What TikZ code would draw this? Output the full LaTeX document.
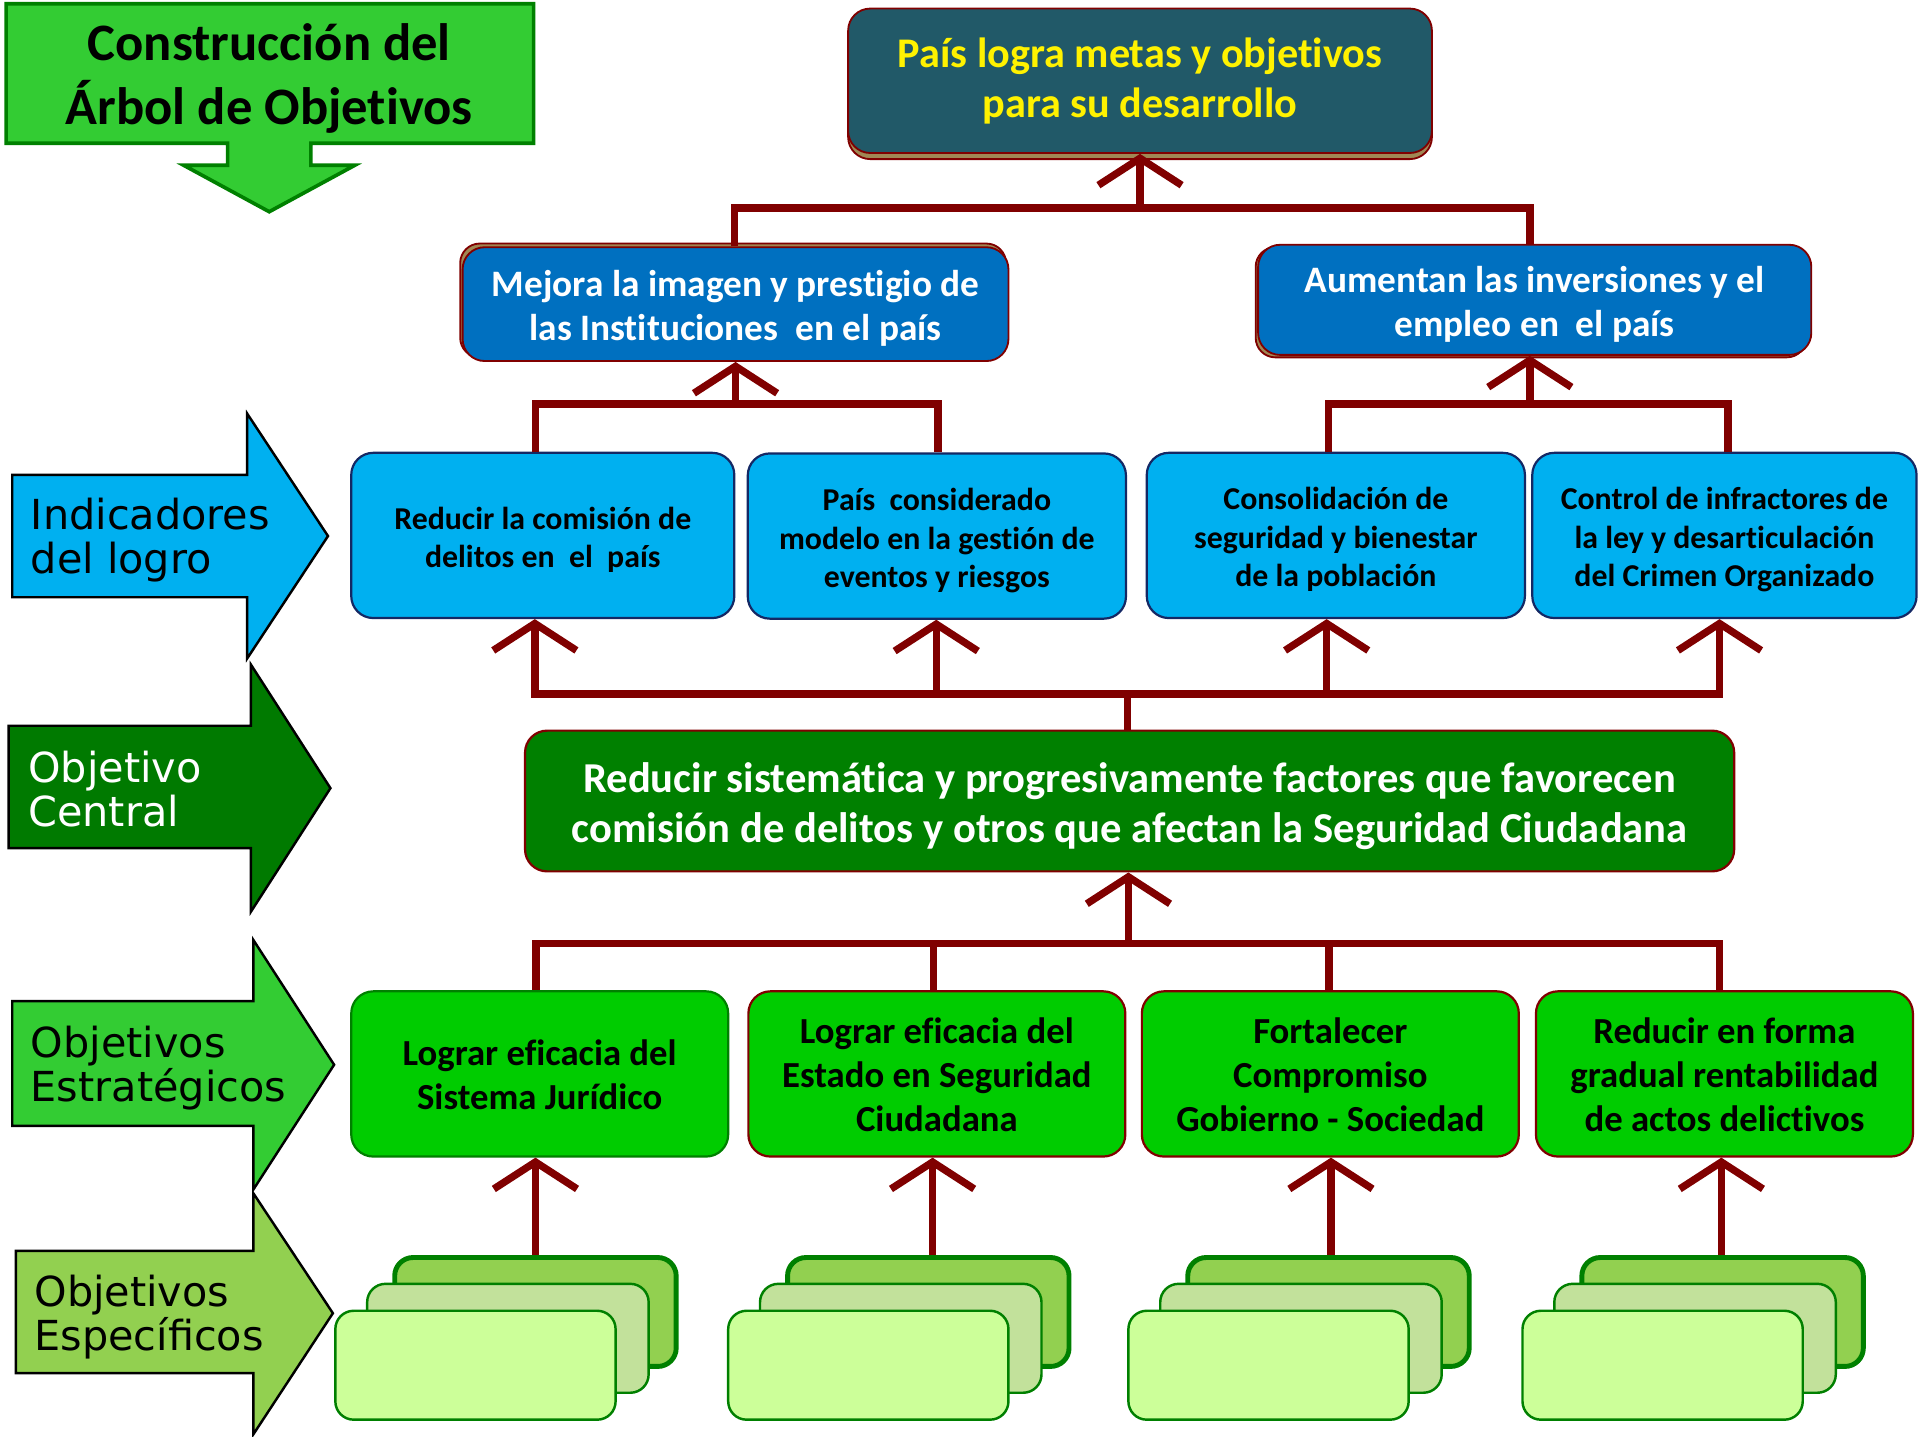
\documentclass[tikz,border=0pt]{standalone}
\usepackage{fontspec}
\setmainfont{Carlito}[Ligatures=NoCommon]
\newfontfamily\lblfont{DejaVu Sans}
\usetikzlibrary{arrows.meta}
\definecolor{cDark}{RGB}{128,0,0}
\definecolor{cTitle}{RGB}{51,204,51}
\definecolor{cTitleB}{RGB}{0,128,0}
\definecolor{cTeal}{RGB}{33,89,104}
\definecolor{cTan}{RGB}{160,136,84}
\definecolor{cMidBlue}{RGB}{0,112,192}
\definecolor{cSky}{RGB}{0,176,240}
\definecolor{cNavy}{RGB}{20,40,100}
\definecolor{cCentral}{RGB}{0,128,0}
\definecolor{cStrat}{RGB}{0,204,0}
\definecolor{cBack}{RGB}{146,208,80}
\definecolor{cMid}{RGB}{194,225,155}
\definecolor{cFront}{RGB}{204,255,153}
\definecolor{cCardB}{RGB}{0,128,0}
\definecolor{cLblC}{RGB}{0,122,0}
\begin{document}
\begin{tikzpicture}[x=1pt,y=-1pt,
  box/.style={rounded corners=18pt, inner sep=0pt},
  txt/.style={inner sep=0pt, align=center},
  topbox/.style={box, fill=cTeal, draw=cDark, line width=1.5pt},
  toptxt/.style={txt, text=yellow, font=\fontsize{34.5}{41}\selectfont\bfseries},
  midbox/.style={box, fill=cMidBlue, draw=cDark, line width=1.5pt},
  midtxt/.style={txt, text=white, font=\fontsize{30.5}{36}\selectfont\bfseries},
  indbox/.style={box, fill=cSky, draw=cNavy, line width=1.8pt,
     minimum width=309pt, minimum height=135pt},
  indtxt/.style={txt, font=\fontsize{26}{31.5}\selectfont\bfseries},
  cenbox/.style={box, fill=cCentral, draw=cDark, line width=1.8pt},
  centxt/.style={txt, text=white, font=\fontsize{34.8}{41}\selectfont\bfseries},
  strbox/.style={box, fill=cStrat, draw=cDark, line width=1.8pt,
     minimum width=308pt, minimum height=135pt},
  strtxt/.style={txt, font=\fontsize{30}{36}\selectfont\bfseries},
  card/.style={rounded corners=15pt, draw=cCardB, line width=2pt, inner sep=0pt,
     minimum width=230pt, minimum height=89pt},
  backcard/.style={card, fill=cBack, line width=4pt},
  midcard/.style={card, fill=cMid},
  frontcard/.style={card, fill=cFront},
  conn/.style={draw=cDark, line width=6pt, line join=miter},
  tipc/.style={conn, -{Straight Barb[length=22pt,width=68pt]}},
  lblarrow/.style={draw=black, line width=2pt, line join=miter},
  lbltext/.style={anchor=west, align=left, inner sep=0pt,
     font=\lblfont\fontsize{33.8}{36}\selectfont}
]
\useasboundingbox (0,0) rectangle (1568,1174);

% ---------- title ----------
\draw[fill=cTitle, draw=cTitleB, line width=3pt, line join=miter]
  (5,3) -- (436,3) -- (436,117) -- (254,117) -- (254,135) -- (290,135)
  -- (220,173) -- (150,135) -- (186,135) -- (186,117) -- (5,117) -- cycle;
\node[txt, font=\fontsize{43}{52}\selectfont\bfseries]
  (title) at (220,64) {Construcción del\\Árbol de Objetivos};

% ---------- left label arrows ----------
\draw[lblarrow, fill=cSky] (10,388) -- (202,388) -- (202,338) -- (268,438)
  -- (202,538) -- (202,488) -- (10,488) -- cycle;
\node[lbltext] (l1) at (25,441) {Indicadores\\del logro};
\draw[lblarrow, fill=cLblC] (7,593) -- (205,593) -- (205,543) -- (270,644)
  -- (205,745) -- (205,693) -- (7,693) -- cycle;
\node[lbltext, text=white] (l2) at (23,645) {Objetivo\\Central};
\draw[lblarrow, fill=cTitle] (10,818) -- (207,818) -- (207,768) -- (273,870)
  -- (207,972) -- (207,920) -- (10,920) -- cycle;
\node[lbltext] (l3) at (25,873) {Objetivos\\Estratégicos};
\draw[lblarrow, fill=cBack] (13,1022) -- (207,1022) -- (207,975) -- (272,1073)
  -- (207,1172) -- (207,1122) -- (13,1122) -- cycle;
\node[lbltext] (l4) at (28,1076) {Objetivos\\Específicos};

% ---------- top level ----------
\draw[rounded corners=18pt, fill=cTan, draw=cDark, line width=1.5pt]
  (693,12) rectangle (1170,130);
\node[topbox, minimum width=477pt, minimum height=118pt] (top) at (931.5,66) {};
\node[toptxt] (topt) at ([yshift=-0.5pt]top.center)
  {País logra metas y objetivos\\para su desarrollo};

\draw[rounded corners=16pt, fill=cTan, draw=cDark, line width=1.5pt]
  (376,199) rectangle (822,292);
\node[midbox, minimum width=446pt, minimum height=93pt] (mej) at (601,248.5) {};
\node[midtxt] (mejt) at ([yshift=-3.5pt]mej.center)
  {Mejora la imagen y prestigio de\\las Instituciones\ \ en el país};
\draw[rounded corners=16pt, fill=cTan, draw=cDark, line width=1.5pt]
  (1026,202) rectangle (1476,292);
\node[midbox, minimum width=452pt, minimum height=90pt] (aum) at (1254,245) {};
\node[midtxt] (aumt) at ([yshift=-4pt]aum.center)
  {Aumentan las inversiones y el\\empleo en\ \ el país};

% ---------- indicators ----------
\node[indbox, minimum width=313pt] (ind1) at (443.5,437.5) {};
\node[indbox] (ind2) at (765.5,438) {};
\node[indbox] (ind3) at (1091.5,437.5) {};
\node[indbox, minimum width=314pt] (ind4) at (1409,437.5) {};
\node[indtxt] (ind1t) at ([yshift=-3.5pt]ind1.center)
  {Reducir la comisión de\\delitos en\ \ el\ \ país};
\node[indtxt] (ind2t) at ([yshift=-4pt]ind2.center)
  {País\ \ considerado\\modelo en la gestión de\\eventos y riesgos};
\node[indtxt] (ind3t) at ([yshift=-3.5pt]ind3.center)
  {Consolidación de\\seguridad y bienestar\\de la población};
\node[indtxt] (ind4t) at ([yshift=-3.5pt]ind4.center)
  {Control de infractores de\\la ley y desarticulación\\del Crimen Organizado};

% ---------- central ----------
\node[cenbox, minimum width=988pt, minimum height=115pt] (cen) at (923,654.5) {};
\node[centxt] (cent) at ([yshift=-4pt]cen.center)
  {Reducir sistemática y progresivamente factores que favorecen\\comisión de delitos y otros que afectan la Seguridad Ciudadana};

% ---------- strategic ----------
\node[strbox, draw=cTitleB] (str1) at (441,877.5) {};
\node[strbox] (str2) at (765.5,877.5) {};
\node[strbox] (str3) at (1087,877.5) {};
\node[strbox] (str4) at (1409,877.5) {};
\node[strtxt] (str1t) at ([yshift=-0.5pt]str1.center)
  {Lograr eficacia del\\Sistema Jurídico};
\node[strtxt] (str2t) at ([yshift=-0.5pt]str2.center)
  {Lograr eficacia del\\Estado en Seguridad\\Ciudadana};
\node[strtxt] (str3t) at ([yshift=-0.5pt]str3.center)
  {Fortalecer\\Compromiso\\Gobierno - Sociedad};
\node[strtxt] (str4t) at ([yshift=-0.5pt]str4.center)
  {Reducir en forma\\gradual rentabilidad\\de actos delictivos};

% ---------- specific stacks ----------
\foreach \i/\dx in {1/0,2/321,3/648,4/970}{
  \node[backcard] (s\i-b) at (437.5+\dx,1072) {};
  \node[midcard] (s\i-m) at (415+\dx,1093.5) {};
  \node[frontcard, minimum width=229pt] (s\i-f) at (388.5+\dx,1115.5) {};
}

% ---------- connectors ----------
\coordinate (b0) at (931.5,170);
\draw[conn] ([xshift=-1pt]mej.north) |- (b0) -| ([xshift=-4pt]aum.north);
\draw[tipc] (b0) -- (top.south);

\coordinate (b1) at (601,330);
\draw[conn] ([xshift=-6pt]ind1.north) |- (b1) -| ([xshift=1pt]ind2.north);
\draw[tipc] (b1) -- (mej.south);

\coordinate (b2) at (1250,330);
\draw[conn] ([xshift=-6pt]ind3.north) |- (b2) -| ([xshift=3pt]ind4.north);
\draw[tipc] (b2) -- (b2 |- aum.south);

\coordinate (b3) at (921,567);
\coordinate (a1) at (437,567);
\coordinate (a2) at (765,567);
\coordinate (a3) at (1084,567);
\coordinate (a4) at (1405,567);
\draw[conn] (cen.north -| b3) -- (b3);
\draw[conn, line cap=rect] (a1) -- (a4);
\draw[tipc] (a1) -- (a1 |- ind1.south);
\draw[tipc] (a2) -- (a2 |- ind2.south);
\draw[tipc] (a3) -- (a3 |- ind3.south);
\draw[tipc] (a4) -- (a4 |- ind4.south);

\coordinate (b4) at (922,771);
\draw[tipc] (b4) -- (b4 |- cen.south);
\draw[conn] ([xshift=-3pt]str1.north) |- (b4) -| ([xshift=-4pt]str4.north);
\draw[conn] ([xshift=-3pt]str2.north) -- ([xshift=-3pt]str2.north |- b4);
\draw[conn] ([xshift=-1pt]str3.north) -- ([xshift=-1pt]str3.north |- b4);

\draw[tipc] (s1-b.north) -- (s1-b.north |- str1.south);
\draw[tipc] ([xshift=3.5pt]s2-b.north) -- ([xshift=3.5pt]s2-b.north |- str2.south);
\draw[tipc] ([xshift=2pt]s3-b.north) -- ([xshift=2pt]s3-b.north |- str3.south);
\draw[tipc] ([xshift=-1pt]s4-b.north) -- ([xshift=-1pt]s4-b.north |- str4.south);
\end{tikzpicture}
\end{document}
